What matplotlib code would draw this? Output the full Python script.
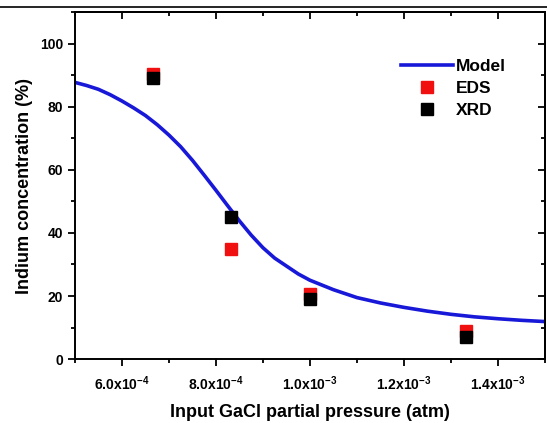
import numpy as np
from matplotlib import pyplot as plt
from matplotlib.lines import Line2D
from matplotlib.ticker import MultipleLocator, FixedLocator

plt.rcParams['font.family'] = ['Liberation Sans', 'DejaVu Sans']
plt.rcParams['font.weight'] = 'bold'
plt.rcParams['mathtext.fontset'] = 'custom'
plt.rcParams['mathtext.rm'] = 'Liberation Sans:bold'
plt.rcParams['mathtext.default'] = 'rm'

# model curve
model_x = [5.0e-4, 5.25e-4, 5.5e-4, 5.75e-4, 6.0e-4, 6.25e-4, 6.5e-4, 6.75e-4,
           7.0e-4, 7.25e-4, 7.5e-4, 7.75e-4, 8.0e-4, 8.25e-4, 8.5e-4, 8.75e-4,
           9.0e-4, 9.25e-4, 9.5e-4, 9.75e-4, 1.0e-3, 1.05e-3, 1.1e-3, 1.15e-3,
           1.2e-3, 1.25e-3, 1.3e-3, 1.35e-3, 1.4e-3, 1.45e-3, 1.5e-3]
model_y = [87.7, 86.7, 85.5, 83.8, 81.8, 79.6, 77.2, 74.3,
           71.0, 67.3, 63.0, 58.3, 53.5, 48.6, 43.8, 39.3,
           35.3, 32.0, 29.5, 27.0, 25.0, 22.0, 19.5, 17.8,
           16.4, 15.2, 14.2, 13.4, 12.8, 12.3, 11.9]

# measured points
pressure = [6.67e-4, 8.33e-4, 1.0e-3, 1.333e-3]
eds = [90.5, 35.0, 20.5, 9.0]
eds_err = [1.5, 1.5, 1.5, 1.5]
xrd = [89.0, 45.0, 19.0, 7.0]

x_ticks = [6.0e-4, 8.0e-4, 1.0e-3, 1.2e-3, 1.4e-3]
x_labels = [r'6.0x10$^{-4}$', r'8.0x10$^{-4}$', r'1.0x10$^{-3}$',
            r'1.2x10$^{-3}$', r'1.4x10$^{-3}$']

fig = plt.figure(figsize=(5.47, 4.23), dpi=100)
ax = fig.add_axes([0.137, 0.151, 0.8593, 0.8206])

line, = ax.plot(model_x, model_y, color='#1818d8', lw=2.6, zorder=2)
ax.errorbar(pressure, eds, yerr=eds_err, fmt='s', color='#f01010', ms=8,
            elinewidth=0.8, capsize=2, zorder=3)
sq_eds = Line2D([], [], ls='none', marker='s', color='#f01010', ms=8)
sq_xrd, = ax.plot(pressure, xrd, 's', color='black', ms=8, zorder=4)

ax.set_xlim(5e-4, 1.5e-3)
ax.set_ylim(0, 110)
ax.xaxis.set_major_locator(FixedLocator(x_ticks))
ax.set_xticklabels(x_labels)
ax.xaxis.set_minor_locator(MultipleLocator(1e-4))
ax.yaxis.set_major_locator(MultipleLocator(20))
ax.yaxis.set_minor_locator(MultipleLocator(10))
ax.tick_params(which='major', direction='out', length=5, width=1.3, labelsize=10)
ax.tick_params(which='minor', direction='out', length=3, width=1.3)
ax.tick_params(axis='x', pad=6)

# mirrored ticks on top and right, pointing inward
top = ax.secondary_xaxis('top')
top.xaxis.set_major_locator(FixedLocator(x_ticks))
top.xaxis.set_minor_locator(MultipleLocator(1e-4))
top.tick_params(which='both', direction='in', labeltop=False, width=1.3)
top.tick_params(which='major', length=5)
top.tick_params(which='minor', length=3)
right = ax.secondary_yaxis('right')
right.yaxis.set_major_locator(MultipleLocator(20))
right.yaxis.set_minor_locator(MultipleLocator(10))
right.tick_params(which='both', direction='in', labelright=False, width=1.3)
right.tick_params(which='major', length=5)
right.tick_params(which='minor', length=3)
for a in (ax, top, right):
    for s in a.spines.values():
        s.set_linewidth(1.4)

ax.set_xlabel('Input GaCl partial pressure (atm)', fontsize=13, fontweight='bold', labelpad=8)
ax.set_ylabel('Indium concentration (%)', fontsize=13, fontweight='bold', labelpad=5)

ax.legend([line, sq_eds, sq_xrd], ['Model', 'EDS', 'XRD'], loc='upper right',
          bbox_to_anchor=(0.95, 0.91), frameon=False, fontsize=12.5,
          handlelength=3.0, handletextpad=0.15, labelspacing=0.4)

fig.add_artist(Line2D([0, 1], [0.983, 0.983], color='black', lw=1.2))

fig.savefig('out.png', dpi=100)
